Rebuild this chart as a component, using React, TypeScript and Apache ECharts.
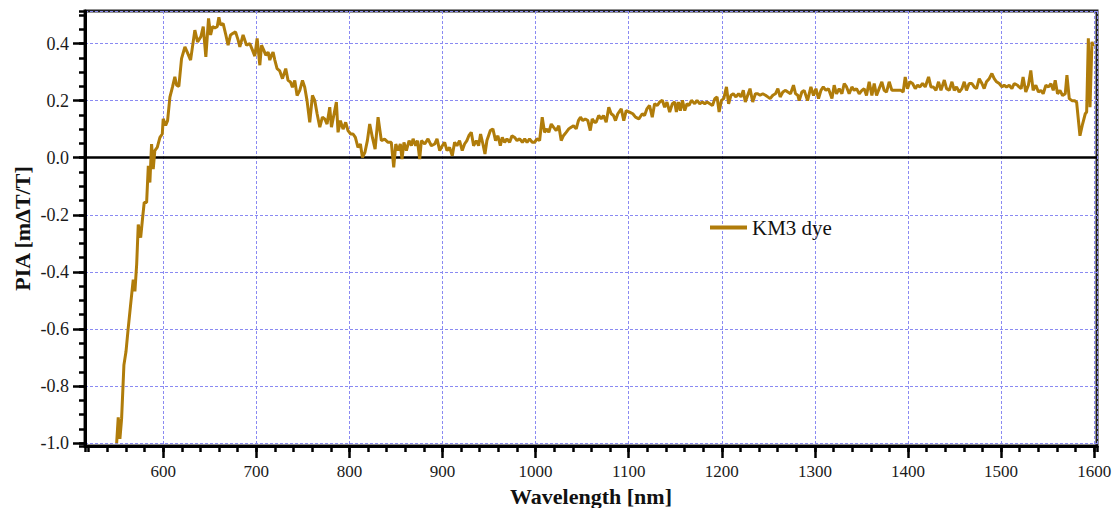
import { useEffect, useRef } from "react";
import * as echarts from "echarts";

// Wavelength (nm) and PIA (mΔT/T)
const wavelength = [
  550, 551.7, 553.5, 555.3, 557.8, 560, 562.4, 565, 567.8, 569.6, 571.5, 573.2, 575.8, 577.9, 579.6, 582.2, 584, 585.7, 587.5, 589.3,
  591, 593.6, 596.5, 599, 600, 602.6, 604.7, 607.2, 610, 612.5, 614.4, 616.8, 619.7, 623.3, 625.8, 629.4, 634, 636.9, 640.5, 643,
  645.8, 648.7, 650.9, 653, 655.5, 658, 659.8, 661.6, 664.4, 667.3, 669.7, 672.3, 675, 677.7, 680.5,
  682.3, 685.8, 689.5, 693, 695.9, 698.4, 700.9, 703.8, 705.6, 708, 710.2, 712.7, 714.5, 716.3, 718, 719.9, 722.3, 725.2, 728.1, 731.6,
  734.1, 736.7, 738.8, 741.3, 743.8, 746.7, 749.6, 752, 754.5, 757.4, 760.3, 762.8, 765.3, 768.2, 771, 773.5, 776, 778.9, 780.7, 783.2,
  786, 787.8, 790.3, 793.2, 796, 798.5, 801.4, 803.9, 806.4, 809.2, 811.8, 814, 816.7, 819.3, 821.8, 824.7, 827.6, 830.8,
  834.3, 837.8, 841.5, 845, 847.6, 849.8, 852.2, 854.7, 856.5, 858.6, 861.2, 864.1, 866.6, 868.4, 871.2, 873.1, 875.5, 877.3, 880.9, 884.4,
  888, 891.6, 894.1, 897, 899.8, 902.3, 904.8, 907.6, 910.5, 913, 915.5, 918.3, 921.2, 923.7, 926.2, 928.3, 930.9, 933.4, 936.3, 938.8,
  940.9, 943.4, 945.6, 947.7, 951.4, 954.1, 957, 959.5, 962.1, 964.2, 966.7, 969.2, 972.1, 974.6, 977.5, 980, 982.9, 985.8, 988.3, 990.8,
  993.5, 996.4, 998.9, 1001.4, 1004.3, 1007.1, 1009.6, 1012.1, 1014.2, 1016.8, 1019.2, 1022.1, 1024.9, 1027.5, 1029.9, 1032.8, 1035.6, 1038.2, 1040.7, 1043.6,
  1046, 1048.2, 1050.7, 1053.3, 1056.1, 1058.7, 1060.8, 1063.4,
  1065, 1067.8, 1070.4, 1072.9, 1075.8, 1078.6, 1081.2, 1083.6, 1085.8, 1088.3, 1092, 1094.7, 1097.3, 1100.8, 1104.4, 1107.3, 1110.9, 1114.6, 1117, 1119.5,
  1122.4, 1125.3, 1127.8, 1130.7, 1133.2, 1136.1, 1138.6, 1141.1, 1144, 1146.9, 1149.4, 1151.2, 1153.4, 1155.5, 1157.7, 1160.2, 1162.6, 1164.8, 1167.4, 1170.9,
  1173.4, 1176.3, 1179.2, 1181.7, 1184.2, 1187.1, 1190, 1192.5, 1194.9, 1197.1, 1199.6, 1202.1, 1205, 1207.3, 1209.9, 1212.3, 1215.2, 1218, 1220.6, 1223.1,
  1225.2, 1227.8, 1230.3, 1233.2, 1236.1, 1238.6, 1241.1, 1244, 1246.9, 1249.4, 1251.9, 1254.8, 1257.6, 1260.2, 1262.7, 1265.6, 1268.5, 1270.9, 1273.8, 1277,
  1279.2, 1281.6,
  1283.1, 1286, 1288.5, 1292.1, 1295.7, 1298.5, 1301.1, 1303.9, 1306.5, 1309, 1311.8, 1314.6, 1318.3, 1320.7, 1323.2, 1326.1, 1329, 1331.5, 1334, 1336.8,
  1339.7, 1342.2, 1344.7, 1347.6, 1350.5, 1352.9, 1355.4, 1358.3, 1361.2, 1363.7, 1366.2, 1369, 1371.9, 1374.4, 1376.9, 1379.8, 1382.7, 1385.2, 1388.7, 1392.4,
  1394.8, 1397, 1399.4, 1402, 1404.9, 1407.8, 1410.3, 1412.8, 1415.6, 1418.5, 1422.1, 1424.6, 1427.1, 1430, 1432.8, 1435.4, 1439, 1441.4, 1444.3, 1447.2,
  1449.7, 1452.1, 1455, 1457.9, 1460.4, 1462.8, 1465.7, 1468.6, 1471.1, 1473.6, 1476.5, 1479.4, 1481.8, 1484.3, 1487.2, 1490.1, 1492.6, 1495.1, 1498, 1500.9,
  1503.3, 1505.8, 1508.7, 1511.6, 1514.1, 1517.6,
  1519.3, 1521.5, 1523.6, 1526.5, 1529.3, 1531.9, 1534.4, 1537.3, 1540.1, 1542.7, 1545.2, 1548.1, 1550.9, 1553.5, 1556, 1558.1, 1560.6, 1563.2, 1566, 1568.9,
  1570.7, 1573.2, 1576.1, 1578.6, 1581.1, 1584.7, 1587.5, 1590.4, 1591.9, 1593.7, 1595.5, 1597.6, 1599,
];

const pia = [
  -1.0, -0.91, -0.985, -0.915, -0.726, -0.68, -0.598, -0.515, -0.427, -0.468, -0.374, -0.234, -0.28, -0.21, -0.157, -0.157, -0.028, -0.087, 0.048, -0.04,
  0.025, 0.036, 0.071, 0.083, 0.136, 0.113, 0.13, 0.212, 0.248, 0.283, 0.254, 0.25, 0.347, 0.388, 0.37, 0.342, 0.447, 0.406, 0.424, 0.459,
  0.353, 0.488, 0.43, 0.459, 0.455, 0.459, 0.492, 0.465, 0.47, 0.43, 0.394, 0.43, 0.436, 0.441, 0.412,
  0.388, 0.43, 0.394, 0.4, 0.377, 0.356, 0.418, 0.324, 0.394, 0.377, 0.359, 0.37, 0.342, 0.359, 0.37, 0.342, 0.312, 0.304, 0.277, 0.312,
  0.271, 0.265, 0.247, 0.271, 0.218, 0.236, 0.271, 0.247, 0.2, 0.124, 0.218, 0.2, 0.154, 0.107, 0.142, 0.136, 0.118, 0.177, 0.107, 0.148,
  0.195, 0.089, 0.13, 0.1, 0.124, 0.095, 0.083, 0.083, 0.071, 0.036, 0.048, 0.001, 0.019, 0.06, 0.118, 0.071, 0.03, 0.142,
  0.06, 0.065, 0.054, 0.054, -0.034, 0.048, 0.025, 0.048, -0.005, 0.054, 0.025, 0.06, 0.042, 0.066, 0.042, 0.06, -0.005, 0.06, 0.048, 0.066,
  0.042, 0.048, 0.066, 0.025, 0.042, 0.054, 0.025, 0.036, 0.007, 0.054, 0.042, 0.06, 0.025, 0.048, 0.06, 0.077, 0.089, 0.042, 0.06, 0.042,
  0.083, 0.048, 0.013, 0.06, 0.095, 0.101, 0.06, 0.077, 0.042, 0.071, 0.054, 0.066, 0.054, 0.077, 0.071, 0.06, 0.066, 0.054, 0.066, 0.054,
  0.066, 0.054, 0.054, 0.066, 0.06, 0.142, 0.089, 0.101, 0.089, 0.118, 0.107, 0.095, 0.112, 0.06, 0.077, 0.089, 0.101, 0.107, 0.112, 0.101,
  0.13, 0.142, 0.13, 0.136, 0.13, 0.095, 0.136, 0.124,
  0.124, 0.148, 0.136, 0.148, 0.124, 0.177, 0.154, 0.148, 0.13, 0.154, 0.171, 0.13, 0.165, 0.16, 0.154, 0.142, 0.136, 0.154, 0.148, 0.171,
  0.183, 0.142, 0.189, 0.183, 0.195, 0.201, 0.177, 0.195, 0.16, 0.189, 0.195, 0.16, 0.195, 0.165, 0.201, 0.165, 0.189, 0.183, 0.201, 0.189,
  0.201, 0.189, 0.195, 0.189, 0.195, 0.189, 0.183, 0.207, 0.213, 0.16, 0.201, 0.207, 0.248, 0.189, 0.219, 0.224, 0.213, 0.224, 0.213, 0.236,
  0.195, 0.219, 0.242, 0.195, 0.224, 0.224, 0.219, 0.224, 0.219, 0.213, 0.207, 0.219, 0.224, 0.242, 0.213, 0.23, 0.236, 0.23, 0.224, 0.254,
  0.224, 0.219,
  0.2, 0.23, 0.236, 0.2, 0.248, 0.218, 0.242, 0.207, 0.236, 0.248, 0.236, 0.242, 0.207, 0.254, 0.224, 0.242, 0.224, 0.26, 0.248, 0.224,
  0.248, 0.236, 0.242, 0.224, 0.236, 0.242, 0.218, 0.266, 0.218, 0.26, 0.218, 0.242, 0.266, 0.236, 0.23, 0.266, 0.236, 0.236, 0.236, 0.236,
  0.23, 0.283, 0.242, 0.266, 0.26, 0.242, 0.254, 0.248, 0.26, 0.248, 0.283, 0.248, 0.248, 0.236, 0.266, 0.236, 0.272, 0.242, 0.236, 0.266,
  0.236, 0.248, 0.23, 0.242, 0.266, 0.236, 0.26, 0.26, 0.248, 0.242, 0.277, 0.26, 0.242, 0.266, 0.277, 0.295, 0.277, 0.266, 0.26, 0.248,
  0.254, 0.248, 0.254, 0.242, 0.26, 0.254,
  0.248, 0.242, 0.283, 0.23, 0.254, 0.306, 0.236, 0.254, 0.23, 0.236, 0.224, 0.254, 0.248, 0.259, 0.236, 0.271, 0.224, 0.236, 0.218, 0.224,
  0.289, 0.207, 0.2, 0.2, 0.195, 0.077, 0.118, 0.154, 0.16, 0.418, 0.177, 0.406, 0.39,
];

const seriesName = "KM3 dye";
const xAxisTitle = "Wavelength [nm]";
const yAxisTitle = "PIA [mΔT/T]";

const FONT = "'Liberation Serif', 'Times New Roman', serif";
const LINE_COLOR = "#b07c0a";
const GRID_COLOR = "#8a8af2";

export default function App() {
  const ref = useRef<HTMLDivElement>(null);

  useEffect(() => {
    if (!ref.current) return;
    const chart = echarts.init(ref.current, null, { renderer: "svg" });
    const data = wavelength.map((w, i) => [w, pia[i]]);
    const option: any = {
      animation: false,
      backgroundColor: "#ffffff",
      grid: {
        left: 85,
        right: 20,
        top: 11,
        bottom: 62,
        show: true,
        borderColor: "#222",
        borderWidth: 3,
        backgroundColor: "transparent",
        containLabel: false,
        outerBoundsMode: "none",
      },
      legend: {
        show: true,
        left: 705,
        top: 212,
        icon: "rect",
        itemWidth: 37,
        itemHeight: 4,
        data: [seriesName],
        textStyle: { fontFamily: FONT, fontSize: 21, color: "#111" },
      },
      xAxis: [
        {
          type: "value",
          min: 516,
          max: 1603,
          splitNumber: 10,
          position: "bottom",
          axisLine: { show: true, onZero: false, lineStyle: { color: "#000", width: 3 } },
          axisTick: { show: true, length: 12, lineStyle: { color: "#000", width: 2.5 } },
          axisLabel: {
            showMinLabel: false,
            showMaxLabel: false,
            margin: 17,
            fontFamily: FONT,
            fontSize: 17,
            color: "#1a1a1a",
            formatter: (v: number) => String(Math.round(v)),
          },
          splitLine: { show: true, lineStyle: { color: GRID_COLOR, type: [3, 2], width: 1 } },
          name: xAxisTitle,
          nameLocation: "middle",
          nameGap: 39,
          nameMoveOverlap: false,
          nameTextStyle: { fontFamily: FONT, fontSize: 22, fontWeight: "bold", color: "#111" },
        },
        {
          type: "value",
          min: 516,
          max: 1603,
          splitNumber: 55,
          position: "bottom",
          axisLine: { show: false, onZero: false },
          axisTick: { show: true, length: 6, lineStyle: { color: "#000", width: 2.5 } },
          axisLabel: { show: false },
          splitLine: { show: false },
        },
      ],
      yAxis: [
        {
          type: "value",
          min: -1.01,
          max: 0.514,
          splitNumber: 8,
          position: "left",
          axisLine: { show: true, onZero: false, lineStyle: { color: "#000", width: 3 } },
          axisTick: { show: true, length: 12, lineStyle: { color: "#000", width: 2.5 } },
          axisLabel: {
            showMinLabel: false,
            showMaxLabel: false,
            margin: 16,
            fontFamily: FONT,
            fontSize: 18,
            color: "#1a1a1a",
            formatter: (v: number) => v.toFixed(1),
          },
          splitLine: { show: true, lineStyle: { color: GRID_COLOR, type: [3, 2], width: 1 } },
          name: yAxisTitle,
          nameLocation: "middle",
          nameGap: 52,
          nameMoveOverlap: false,
          nameTextStyle: { fontFamily: FONT, fontSize: 22, fontWeight: "bold", color: "#111" },
        },
        {
          type: "value",
          min: -1.01,
          max: 0.514,
          splitNumber: 30,
          position: "left",
          axisLine: { show: false, onZero: false },
          axisTick: { show: true, length: 6, lineStyle: { color: "#000", width: 2.5 } },
          axisLabel: { show: false },
          splitLine: { show: false },
        },
      ],
      series: [
        {
          name: seriesName,
          type: "line",
          xAxisIndex: 0,
          yAxisIndex: 0,
          data,
          showSymbol: false,
          symbol: "none",
          lineStyle: { color: LINE_COLOR, width: 3 },
          itemStyle: { color: LINE_COLOR },
          z: 3,
          markLine: {
            silent: true,
            symbol: ["none", "none"],
            label: { show: false },
            lineStyle: { color: "#000", type: "solid", width: 2.5 },
            data: [{ yAxis: 0 }],
            z: 2,
          },
        },
      ],
    };
    chart.setOption(option);
    return () => chart.dispose();
  }, []);

  return (
    <div
      ref={ref}
      style={{ position: "fixed", left: 0, top: 0, width: 1117, height: 508, background: "#fff" }}
    />
  );
}
